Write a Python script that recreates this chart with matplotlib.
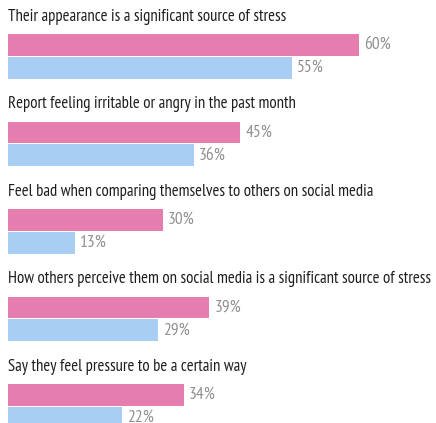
import matplotlib
matplotlib.use("Agg")
import matplotlib.pyplot as plt

questions = [
    "Their appearance is a significant source of stress",
    "Report feeling irritable or angry in the past month",
    "Feel bad when comparing themselves to others on social media",
    "How others perceive them on social media is a significant source of stress",
    "Say they feel pressure to be a certain way",
]
# bar lengths as drawn in the original graphic (the first pink bar is drawn long)
pink_bars = [68, 45, 30, 39, 34]
blue_bars = [55, 36, 13, 29, 22]
pink_labels = ["60%", "45%", "30%", "39%", "34%"]
blue_labels = ["55%", "36%", "13%", "29%", "22%"]

pink = "#E67DAF"
blue = "#A8CEF4"

plt.rcParams['font.family'] = ['PT Sans Narrow', 'Roboto Condensed',
                               'Open Sans Condensed', 'DejaVu Sans']

fig = plt.figure(figsize=(4.36, 4.23), dpi=100)
ax = fig.add_axes([0, 0, 1, 1])

h = 0.25
for i in range(len(questions)):
    ax.barh(i, pink_bars[i], height=h, color=pink, align='center')
    ax.barh(i + 0.262, blue_bars[i], height=h, color=blue, align='center')
    ax.text(0, i - 0.32, questions[i], fontsize=12, color="#1e1e1e",
            va='center', ha='left')
    ax.text(pink_bars[i] + 1.0, i, pink_labels[i], fontsize=12.5,
            color="#909090", va='center', ha='left')
    ax.text(blue_bars[i] + 1.0, i + 0.262, blue_labels[i], fontsize=12.5,
            color="#909090", va='center', ha='left')

ax.set_xlim(-1.55, 82.9)
ax.set_ylim(4.32, -0.514)
ax.axis('off')

fig.savefig("out.png", dpi=100)
